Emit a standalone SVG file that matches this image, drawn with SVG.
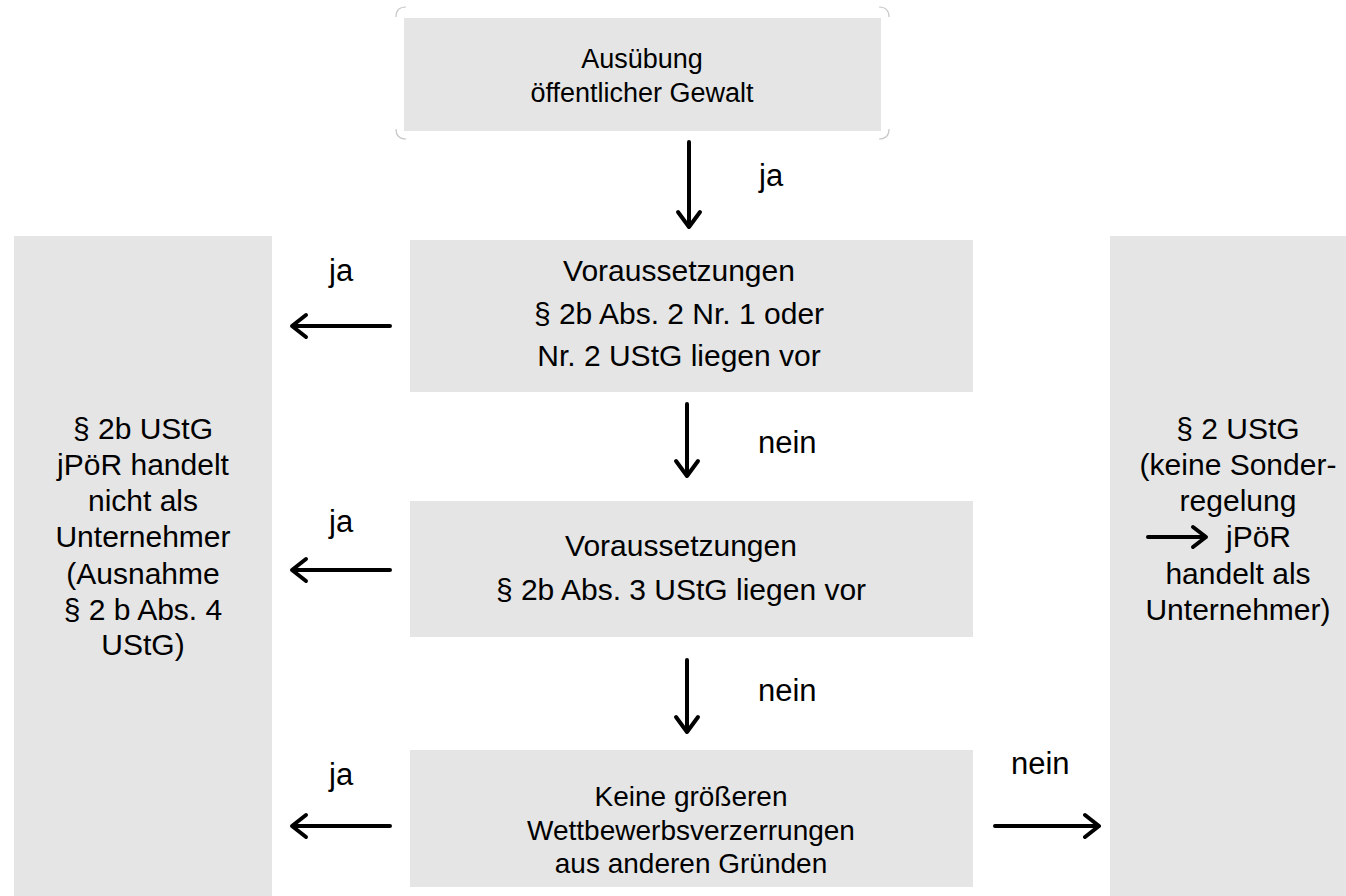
<svg xmlns="http://www.w3.org/2000/svg" width="1346" height="896" viewBox="0 0 1346 896">
<style>
.box{fill:#e5e5e5}
.t{font-family:"Liberation Sans",Arial,sans-serif;fill:#000;text-anchor:middle}
.lbl{font-family:"Liberation Sans",Arial,sans-serif;fill:#000;font-size:31px}
.arr{stroke:#000;stroke-width:4;fill:none;stroke-linecap:round;stroke-linejoin:round}
.corner{stroke:#c8c8c8;stroke-width:1.2;fill:none}
</style>
<rect width="1346" height="896" fill="#fff"/>
<g id="node-top">
<path class="corner" d="M396 17 Q396 7 406 7 M879 7 Q889 7 889 17 M396 129 Q396 139 406 139 M879 139 Q889 139 889 129"/>
<rect class="box" x="404" y="18" width="477" height="113"/>
<text class="t" font-size="27" x="642" y="68">Ausübung</text>
<text class="t" font-size="27" x="642" y="102">öffentlicher Gewalt</text>
</g>
<g id="node-cond1">
<rect class="box" x="410" y="240" width="563" height="152"/>
<text class="t" font-size="30" x="679" y="281">Voraussetzungen</text>
<text class="t" font-size="30" x="679" y="324">§ 2b Abs. 2 Nr. 1 oder</text>
<text class="t" font-size="30" x="679" y="366">Nr. 2 UStG liegen vor</text>
</g>
<g id="node-cond2">
<rect class="box" x="410" y="501" width="563" height="136"/>
<text class="t" font-size="30" x="681" y="556">Voraussetzungen</text>
<text class="t" font-size="30" x="681" y="600">§ 2b Abs. 3 UStG liegen vor</text>
</g>
<g id="node-cond3">
<rect class="box" x="410" y="750" width="563" height="137"/>
<text class="t" font-size="28" x="691" y="806">Keine größeren</text>
<text class="t" font-size="28" x="691" y="840">Wettbewerbsverzerrungen</text>
<text class="t" font-size="28" x="691" y="873">aus anderen Gründen</text>
</g>
<g id="node-left">
<rect class="box" x="14" y="236" width="258" height="660"/>
<text class="t" font-size="30" x="143" y="439">§ 2b UStG</text>
<text class="t" font-size="30" x="143" y="475">jPöR handelt</text>
<text class="t" font-size="30" x="143" y="511">nicht als</text>
<text class="t" font-size="30" x="143" y="547">Unternehmer</text>
<text class="t" font-size="30" x="143" y="584">(Ausnahme</text>
<text class="t" font-size="30" x="143" y="620">§ 2 b Abs. 4</text>
<text class="t" font-size="30" x="143" y="655">UStG)</text>
</g>
<g id="node-right">
<rect class="box" x="1110" y="236" width="236" height="660"/>
<text class="t" font-size="30" x="1238" y="439">§ 2 UStG</text>
<text class="t" font-size="30" x="1238" y="475">(keine Sonder-</text>
<text class="t" font-size="30" x="1238" y="511">regelung</text>
<path class="arr" d="M1148 537 H1205 M1193 527 L1206 537 L1193 547"/>
<text class="t" font-size="30" x="1226" y="547" style="text-anchor:start">jPöR</text>
<text class="t" font-size="30" x="1238" y="584">handelt als</text>
<text class="t" font-size="30" x="1238" y="620">Unternehmer)</text>
</g>
<g id="connectors">
<path class="arr" d="M689 142 V226 M678 212 L689 227 L700 212"/>
<path class="arr" d="M687 404 V475 M676 461 L687 476 L698 461"/>
<path class="arr" d="M687 660 V731 M676 717 L687 732 L698 717"/>
<path class="arr" d="M390 326 H293 M306 315 L292 326 L306 337"/>
<path class="arr" d="M390 570 H293 M306 559 L292 570 L306 581"/>
<path class="arr" d="M390 826 H293 M306 815 L292 826 L306 837"/>
<path class="arr" d="M995 826 H1098 M1085 815 L1099 826 L1085 837"/>
<text class="lbl" x="759" y="186">ja</text>
<text class="lbl" x="758" y="453">nein</text>
<text class="lbl" x="758" y="701">nein</text>
<text class="lbl" x="329" y="281">ja</text>
<text class="lbl" x="329" y="532">ja</text>
<text class="lbl" x="329" y="785">ja</text>
<text class="lbl" x="1011" y="774">nein</text>
</g>
</svg>
